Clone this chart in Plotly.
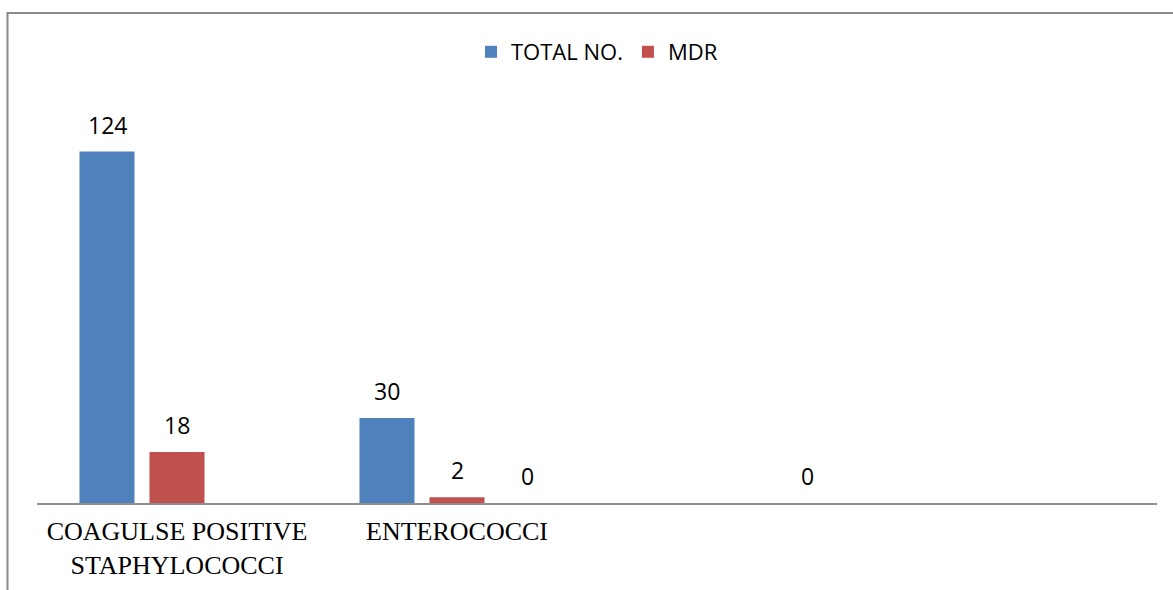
import plotly.graph_objects as go

# Organism groups and counts
categories = ["COAGULSE POSITIVE<br>STAPHYLOCOCCI", "ENTEROCOCCI", "", ""]
total_no = [124, 30, None, None]
mdr = [18, 2, None, None]
extra = [None, 0, 0, None]

series = [
    ("TOTAL NO.", total_no, "#4F81BD", True),
    ("MDR", mdr, "#C0504D", True),
    ("", extra, "#9BBB59", False),
]

W, H = 1173, 590
L, R, T, B = 37, 16, 107, 87
plot_w = W - L - R
plot_h = H - T - B
y_max = 139.7
bargap = 0.25
slot = (1 - bargap) / len(series)

x = list(range(len(categories)))
fig = go.Figure()
annotations = []
for k, (name, vals, color, show) in enumerate(series):
    fig.add_trace(go.Bar(
        x=x, y=vals, name=name, showlegend=show,
        marker=dict(color=color, line=dict(width=0)),
    ))
    offset = (k - (len(series) - 1) / 2) * slot
    for i, v in enumerate(vals):
        if v is None:
            continue
        annotations.append(dict(
            x=i + offset, y=v, xref="x", yref="y", text=str(v),
            showarrow=False, yanchor="middle", yshift=27,
            font=dict(family="Open Sans", size=23, color="#000000"),
        ))

# Outer chart frame (runs past the right and bottom edges)
px = lambda p: (p - L) / plot_w
py = lambda p: (H - B - p) / plot_h
frame = dict(
    type="rect", xref="paper", yref="paper",
    x0=px(7.5), x1=px(1190), y0=py(610), y1=py(13),
    line=dict(color="#8A8A8A", width=2), fillcolor="rgba(0,0,0,0)",
    layer="below",
)

fig.update_layout(
    width=W, height=H, autosize=False,
    margin=dict(l=L, r=R, t=T, b=B, pad=0),
    paper_bgcolor="white", plot_bgcolor="white",
    barmode="group", bargap=bargap, bargroupgap=0.214,
    shapes=[frame],
    annotations=annotations,
    legend=dict(
        orientation="h", x=0.5, xanchor="center", y=py(52), yanchor="middle",
        font=dict(family="Open Sans", size=22, color="#000000"),
        itemwidth=30, traceorder="normal",
    ),
    xaxis=dict(
        range=[-0.5, len(categories) - 0.5],
        tickmode="array", tickvals=x, ticktext=categories,
        showline=True, linecolor="#8E8E8E", linewidth=2,
        ticks="", showgrid=False, zeroline=False, ticklabelstandoff=4,
        automargin=False,
        tickfont=dict(family="Liberation Serif", size=26, color="#000000"),
    ),
    yaxis=dict(
        range=[0, y_max], visible=False, showgrid=False, zeroline=False,
        automargin=False,
    ),
)

fig.write_html("out.html")
